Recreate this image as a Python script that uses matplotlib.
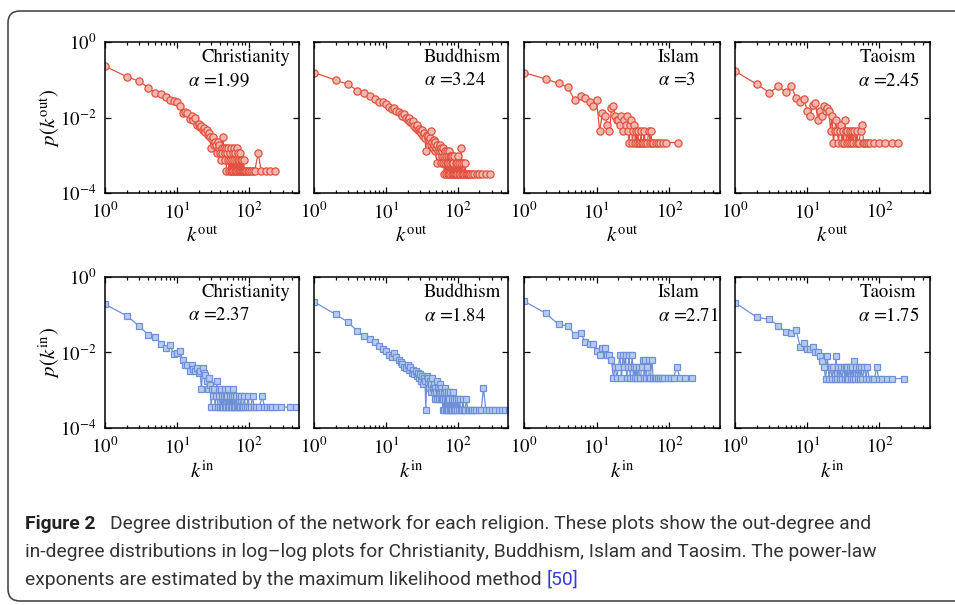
import numpy as np
import matplotlib.pyplot as plt
from matplotlib.patches import FancyBboxPatch
from matplotlib.transforms import IdentityTransform
from matplotlib.ticker import FixedLocator, LogLocator, NullLocator

plt.rcParams['font.family'] = 'STIXGeneral'
plt.rcParams['mathtext.fontset'] = 'stix'

religions = ['Christianity', 'Buddhism', 'Islam', 'Taoism']
alpha_out = ['1.99', '3.24', '3', '2.45']
alpha_in = ['2.37', '1.84', '2.71', '1.75']

# network sizes (1/N is the lowest level in each panel)
n_out = [2630, 3160, 460, 460]
n_in = [2820, 3390, 470, 490]

# (degree k, number of nodes)
chris_out = [(1, 605), (2, 316), (3, 242), (4, 160), (5, 118), (6, 108), (7, 92), (8, 76), (9, 71), (10, 68),
             (11, 53), (12, 35), (13, 36), (14, 34), (15, 24), (16, 28), (17, 22), (18, 26), (19, 17), (20, 18),
             (21, 15), (22, 16), (23, 12), (24, 14), (25, 11), (26, 12), (27, 9), (28, 10), (29, 8), (30, 4),
             (31, 7), (32, 8), (33, 5), (34, 6), (35, 5), (36, 3), (37, 6), (38, 4), (39, 5), (40, 3),
             (41, 2), (42, 4), (43, 3), (44, 8), (45, 4), (46, 3), (47, 2), (48, 4), (49, 1), (50, 3),
             (51, 2), (52, 4), (53, 1), (54, 3), (55, 2), (56, 1), (57, 4), (58, 2), (59, 1), (60, 3),
             (61, 1), (62, 2), (63, 4), (64, 1), (65, 3), (66, 1), (67, 2), (68, 4), (69, 1), (70, 2),
             (71, 3), (72, 1), (73, 2), (74, 1), (75, 3), (76, 1), (77, 2), (78, 1), (80, 2), (81, 1),
             (83, 1), (85, 2), (87, 1), (90, 1), (93, 1), (97, 1), (102, 1), (108, 1), (114, 1), (121, 1),
             (135, 3), (149, 1), (176, 1), (195, 1), (230, 1)]
buddh_out = [(1, 490), (2, 310), (3, 237), (4, 164), (5, 142), (6, 120), (7, 98), (8, 82), (9, 82), (10, 71),
             (11, 60), (12, 54), (13, 57), (14, 48), (15, 44), (16, 40), (17, 35), (18, 38), (19, 30), (20, 27),
             (21, 31), (22, 24), (23, 22), (24, 25), (25, 19), (26, 17), (27, 20), (28, 15), (29, 16), (30, 14),
             (31, 12), (32, 15), (33, 10), (34, 12), (35, 9), (36, 4), (37, 11), (38, 9), (39, 10), (40, 8),
             (41, 9), (42, 6), (43, 14), (44, 7), (45, 5), (46, 8), (47, 6), (48, 4), (49, 7), (50, 5),
             (51, 2), (52, 6), (53, 4), (54, 5), (55, 3), (56, 6), (57, 4), (58, 2), (59, 5), (60, 3),
             (61, 4), (62, 2), (63, 5), (64, 3), (65, 1), (66, 4), (67, 2), (68, 3), (69, 1), (70, 4),
             (71, 2), (72, 3), (73, 1), (74, 2), (75, 4), (76, 1), (77, 3), (78, 2), (79, 1), (80, 3),
             (82, 2), (83, 1), (84, 3), (86, 1), (87, 2), (88, 1), (90, 3), (92, 1), (94, 2), (95, 1),
             (97, 2), (99, 1), (101, 3), (103, 1), (105, 2), (108, 1), (110, 2), (112, 5), (114, 1), (117, 2),
             (120, 1), (123, 1), (126, 2), (130, 1), (134, 1), (138, 1), (143, 1), (150, 1), (158, 1), (170, 1),
             (185, 1), (200, 1), (220, 1), (245, 1), (284, 1)]
islam_out = [(1, 71), (2, 48), (3, 37), (4, 29), (5, 13), (6, 17), (7, 15), (8, 12), (9, 9), (10, 13),
             (11, 2), (12, 6), (13, 5), (14, 3), (15, 2), (16, 8), (17, 9), (18, 5), (19, 4), (20, 4),
             (21, 3), (22, 5), (23, 2), (24, 4), (25, 3), (26, 5), (27, 2), (28, 1), (29, 3), (30, 4),
             (31, 1), (32, 2), (33, 3), (34, 1), (35, 2), (36, 1), (37, 2), (38, 1), (40, 1), (41, 2),
             (42, 1), (44, 1), (45, 2), (47, 1), (50, 1), (52, 2), (55, 1), (56, 2), (58, 1), (60, 1),
             (65, 1), (70, 1), (75, 1), (82, 1), (90, 1), (133, 1)]
tao_out = [(1, 78), (2, 35), (3, 21), (4, 31), (5, 22), (6, 32), (7, 15), (8, 12), (9, 14), (10, 7),
           (11, 5), (12, 10), (13, 11), (14, 4), (15, 7), (16, 5), (17, 9), (18, 7), (19, 8), (20, 7),
           (21, 2), (22, 5), (23, 1), (24, 2), (25, 4), (26, 2), (27, 1), (28, 2), (29, 3), (30, 1),
           (31, 2), (32, 1), (33, 4), (34, 2), (35, 1), (36, 2), (38, 1), (39, 2), (40, 1), (41, 2),
           (43, 1), (45, 2), (47, 1), (49, 2), (50, 1), (52, 1), (55, 2), (58, 3), (60, 1), (62, 1),
           (66, 1), (70, 1), (75, 1), (85, 1), (100, 1), (120, 1), (150, 1), (182, 1)]

chris_in = [(1, 536), (2, 265), (3, 141), (4, 83), (5, 72), (6, 48), (7, 37), (8, 45), (9, 26), (10, 27),
            (11, 31), (12, 18), (13, 13), (14, 13), (15, 9), (16, 13), (17, 10), (18, 9), (19, 11), (20, 8),
            (21, 9), (22, 3), (23, 11), (24, 8), (25, 7), (26, 5), (27, 3), (28, 6), (29, 4), (30, 1),
            (31, 3), (32, 2), (33, 3), (34, 1), (35, 2), (36, 5), (37, 1), (38, 3), (39, 2), (40, 1),
            (41, 3), (42, 1), (43, 2), (44, 1), (45, 2), (46, 3), (47, 1), (48, 2), (49, 1), (50, 2),
            (51, 1), (52, 3), (53, 1), (55, 2), (56, 1), (58, 2), (59, 1), (60, 3), (62, 1), (63, 2),
            (65, 1), (67, 2), (68, 1), (70, 1), (72, 2), (74, 1), (76, 1), (79, 2), (81, 1), (84, 1),
            (87, 2), (90, 1), (94, 1), (98, 2), (102, 1), (107, 1), (113, 2), (118, 1), (128, 1), (140, 1),
            (155, 2), (165, 1), (178, 1), (195, 1), (210, 1), (240, 1), (285, 1), (370, 1), (460, 1)]
buddh_in = [(1, 746), (2, 346), (3, 214), (4, 125), (5, 95), (6, 76), (7, 64), (8, 50), (9, 41), (10, 37),
            (11, 29), (12, 25), (13, 32), (14, 26), (15, 21), (16, 19), (17, 17), (18, 14), (19, 13), (20, 16),
            (21, 12), (22, 14), (23, 10), (24, 12), (25, 9), (26, 11), (27, 8), (28, 10), (29, 7), (30, 9),
            (31, 6), (32, 8), (33, 5), (34, 7), (35, 6), (36, 1), (37, 8), (38, 5), (39, 7), (40, 4),
            (41, 6), (42, 3), (43, 5), (44, 7), (45, 4), (46, 3), (47, 5), (48, 2), (49, 4), (50, 3),
            (51, 6), (52, 2), (53, 4), (54, 3), (55, 2), (56, 5), (57, 3), (58, 2), (59, 4), (60, 2),
            (61, 3), (62, 1), (63, 2), (64, 3), (65, 1), (66, 4), (67, 2), (68, 1), (69, 3), (70, 2),
            (71, 1), (72, 3), (73, 2), (74, 1), (75, 2), (77, 1), (78, 3), (80, 1), (82, 2), (84, 1),
            (86, 3), (88, 1), (90, 2), (92, 1), (95, 2), (98, 1), (100, 2), (103, 1), (106, 2), (110, 1),
            (114, 1), (118, 2), (122, 1), (127, 1), (132, 2), (138, 1), (145, 1), (152, 1), (160, 1), (170, 1),
            (180, 1), (195, 1), (212, 1), (228, 4), (245, 1), (270, 1), (300, 1), (330, 1), (370, 1), (410, 1),
            (460, 1), (510, 1)]
islam_in = [(1, 108), (2, 51), (3, 26), (4, 24), (5, 14), (6, 15), (7, 9), (8, 8), (9, 8), (10, 5),
            (11, 4), (12, 6), (13, 6), (14, 4), (15, 4), (16, 3), (17, 1), (18, 2), (19, 1), (20, 2),
            (21, 4), (22, 1), (23, 4), (24, 2), (25, 4), (26, 1), (27, 2), (28, 4), (29, 1), (30, 2),
            (31, 4), (32, 1), (33, 2), (34, 1), (35, 2), (36, 1), (38, 2), (39, 1), (40, 1), (42, 2),
            (44, 3), (45, 1), (47, 3), (48, 1), (50, 2), (52, 3), (53, 1), (55, 1), (58, 3), (60, 1),
            (63, 1), (66, 1), (70, 1), (75, 1), (80, 1), (86, 1), (95, 1), (105, 1), (115, 1), (127, 2),
            (140, 1), (165, 1), (206, 1)]
tao_in = [(1, 103), (2, 42), (3, 37), (4, 25), (5, 17), (6, 16), (7, 19), (8, 7), (9, 9), (10, 6),
          (11, 6), (12, 7), (13, 5), (14, 5), (15, 4), (16, 3), (17, 2), (18, 1), (19, 4), (20, 1),
          (21, 2), (22, 1), (23, 2), (24, 1), (25, 4), (26, 1), (27, 2), (28, 1), (29, 2), (30, 1),
          (32, 2), (33, 1), (34, 2), (35, 1), (36, 2), (37, 1), (39, 2), (40, 1), (42, 2), (43, 1),
          (45, 3), (46, 1), (48, 2), (50, 1), (52, 2), (54, 1), (56, 2), (58, 1), (62, 2), (65, 1),
          (68, 2), (72, 1), (78, 1), (85, 1), (92, 2), (97, 1), (107, 1), (125, 1), (147, 1), (220, 1)]

out_data = [chris_out, buddh_out, islam_out, tao_out]
in_data = [chris_in, buddh_in, islam_in, tao_in]

caption_bold = 'Figure 2'
caption_lines = ['Degree distribution of the network for each religion. These plots show the out-degree and',
                 'in-degree distributions in log\u2013log plots for Christianity, Buddhism, Islam and Taosim. The power-law',
                 'exponents are estimated by the maximum likelihood method ']
caption_ref = '[50]'

# layout in pixels of the 955x605 picture
W, H = 955, 605
col_left = [105, 314, 524, 735]
col_right = [299, 508, 720, 930]
row_top = [42, 277]
row_bottom = [193, 428]
name_x = [0.495, 0.567, 0.684, 0.641]
alpha_x = [0.428, 0.567, 0.684, 0.631]

red, red_fill = '#e2513f', '#f2b7ae'
blue, blue_fill = '#6d90d8', '#b7caef'

fig = plt.figure(figsize=(W / 100, H / 100), dpi=100)

for r in range(2):
    for c in range(4):
        ax = fig.add_axes([col_left[c] / W, 1 - row_bottom[r] / H,
                           (col_right[c] - col_left[c]) / W, (row_bottom[r] - row_top[r]) / H])
        if r == 0:
            k, cnt = np.array(out_data[c]).T
            p = cnt / n_out[c]
            ax.loglog(k, p, '-o', color=red, mfc=red_fill, mec=red, ms=5.2, mew=0.9, lw=0.9)
            sup = 'out'
            alpha = alpha_out[c]
        else:
            k, cnt = np.array(in_data[c]).T
            p = cnt / n_in[c]
            ax.loglog(k, p, '-s', color=blue, mfc=blue_fill, mec=blue, ms=4.5, mew=0.9, lw=0.9)
            sup = 'in'
            alpha = alpha_in[c]

        ax.set_xlim(1, 500)
        ax.set_ylim(1e-4, 1)
        ax.xaxis.set_major_locator(FixedLocator([1, 10, 100]))
        ax.xaxis.set_minor_locator(LogLocator(base=10, subs=np.arange(2, 10)))
        ax.yaxis.set_major_locator(FixedLocator([1e-4, 1e-2, 1]))
        ax.yaxis.set_minor_locator(NullLocator())
        ax.tick_params(which='both', direction='in', top=True, right=True, width=0.9)
        ax.tick_params(which='major', length=4, labelsize=13.5, pad=6)
        ax.tick_params(which='minor', length=2)
        for s in ax.spines.values():
            s.set_linewidth(1.1)
        ax.set_xlabel(r'$k^{\rm %s}$' % sup, fontsize=15, labelpad=3)
        if c == 0:
            ax.set_ylabel(r'$p(k^{\rm %s})$' % sup, fontsize=15, labelpad=-1)
        else:
            ax.tick_params(labelleft=False)

        ax.text(name_x[c], 0.90, religions[c], transform=ax.transAxes,
                ha='left', va='center', fontsize=13.5)
        ax.text(alpha_x[c], 0.745, r'$\alpha$ =' + alpha, transform=ax.transAxes,
                ha='left', va='center', fontsize=13.5)

# rounded frame around the figure
frame = FancyBboxPatch((8, H - 601), 980, 590, boxstyle='round,pad=0,rounding_size=12',
                       transform=IdentityTransform(), fill=False, ec='#4a4a4a', lw=1.2)
fig.patches.append(frame)

cap_font = ['Roboto', 'DejaVu Sans']
cap_size = 13.9
cap_y = [524, 552, 580]
fig.text(25 / W, 1 - cap_y[0] / H, caption_bold, fontweight='bold', family=cap_font,
         fontsize=cap_size, va='center', color='#222222')
fig.text(110 / W, 1 - cap_y[0] / H, caption_lines[0], family=cap_font,
         fontsize=cap_size, va='center', color='#333333')
fig.text(25 / W, 1 - cap_y[1] / H, caption_lines[1], family=cap_font,
         fontsize=cap_size, va='center', color='#333333')
t3 = fig.text(25 / W, 1 - cap_y[2] / H, caption_lines[2], family=cap_font,
              fontsize=cap_size, va='center', color='#333333')
fig.canvas.draw()
bb = t3.get_window_extent()
fig.text(bb.x1 / W, 1 - cap_y[2] / H, caption_ref, family=cap_font,
         fontsize=cap_size, va='center', color='#3b3bd6')

fig.savefig('out.png', dpi=100)
